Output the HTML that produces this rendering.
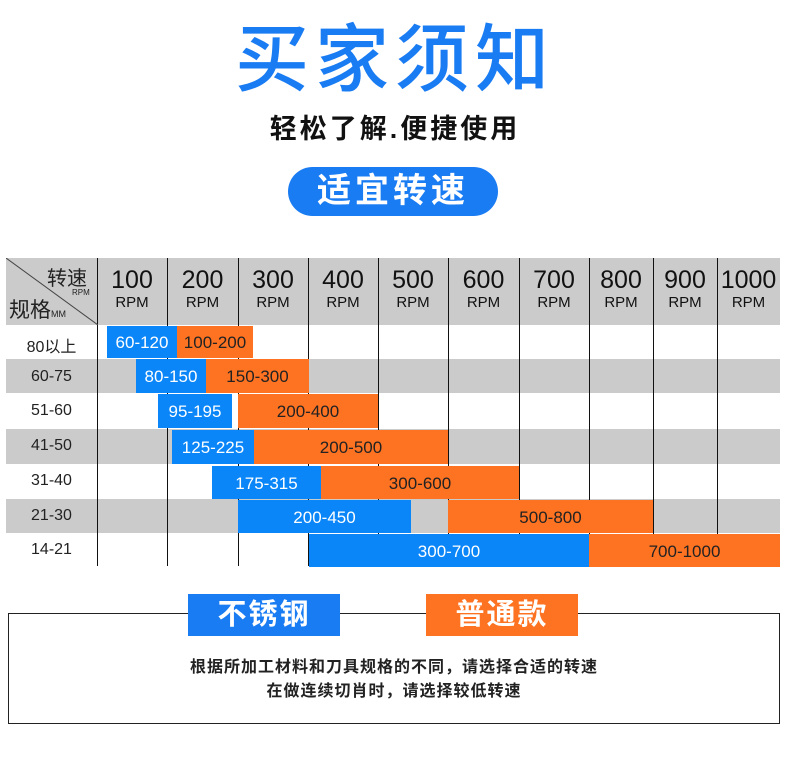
<!DOCTYPE html>
<html><head><meta charset="utf-8"><style>
*{margin:0;padding:0;box-sizing:border-box}
body{width:790px;height:766px;background:#fff;position:relative;overflow:hidden;font-family:"Liberation Sans","Noto Sans CJK SC",sans-serif}
.a{position:absolute}
.g{position:absolute;left:6px;width:774px;background:#cbcbcb}
.v{position:absolute;top:258px;width:1px;height:308px;background:#111}
.b{position:absolute;color:#fff;font-size:17px;display:flex;align-items:center;justify-content:center;background:#0a86f8;padding-top:2px}
.o{position:absolute;color:#222;font-size:17px;display:flex;align-items:center;justify-content:center;background:#fd7322;padding-top:2px}
.h{position:absolute;top:268px;text-align:center;color:#111;line-height:1}
.h b{display:block;font-weight:normal;font-size:25px}
.h i{display:block;font-style:normal;font-size:15px;margin-top:2px}
.r{position:absolute;left:6px;width:91px;text-align:center;font-size:16px;color:#222}
</style></head><body>
<div class="a" style="left:220px;top:8px;width:350px;text-align:center;font-size:74px;font-weight:500;color:#1a7cf3;letter-spacing:6px;line-height:92px;font-family:'Noto Sans CJK SC',sans-serif">买家须知</div>
<div class="a" style="left:240px;top:110px;width:310px;text-align:center;font-size:27px;font-weight:bold;color:#111;letter-spacing:3px;line-height:38px">轻松了解.便捷使用</div>
<div class="a" style="left:288px;top:167px;width:210px;height:49px;border-radius:25px;background:#1a7cf3;color:#fff;font-size:34px;font-weight:bold;text-align:center;line-height:49px;letter-spacing:4px">适宜转速</div>

<div class="g" style="top:258px;height:67px"></div>
<div class="g" style="top:359px;height:34px"></div>
<div class="g" style="top:429px;height:35px"></div>
<div class="g" style="top:499px;height:34px"></div>

<div class="v" style="left:97px"></div><div class="v" style="left:167px"></div><div class="v" style="left:238px"></div><div class="v" style="left:308px"></div><div class="v" style="left:378px"></div><div class="v" style="left:448px"></div><div class="v" style="left:519px"></div><div class="v" style="left:589px"></div><div class="v" style="left:653px"></div><div class="v" style="left:717px"></div>

<svg class="a" style="left:6px;top:258px" width="92" height="67"><line x1="0" y1="0" x2="92" y2="67" stroke="#444" stroke-width="1"/></svg>
<div class="a" style="left:47px;top:262px;font-size:20px;color:#222">转速</div>
<div class="a" style="left:72px;top:288px;font-size:8px;color:#222">RPM</div>
<div class="a" style="left:9px;top:294px;font-size:21px;color:#222">规格<span style="font-size:9px">MM</span></div>

<div class="h" style="left:97px;width:70px"><b>100</b><i>RPM</i></div>
<div class="h" style="left:167px;width:71px"><b>200</b><i>RPM</i></div>
<div class="h" style="left:238px;width:70px"><b>300</b><i>RPM</i></div>
<div class="h" style="left:308px;width:70px"><b>400</b><i>RPM</i></div>
<div class="h" style="left:378px;width:70px"><b>500</b><i>RPM</i></div>
<div class="h" style="left:448px;width:71px"><b>600</b><i>RPM</i></div>
<div class="h" style="left:519px;width:70px"><b>700</b><i>RPM</i></div>
<div class="h" style="left:589px;width:64px"><b>800</b><i>RPM</i></div>
<div class="h" style="left:653px;width:64px"><b>900</b><i>RPM</i></div>
<div class="h" style="left:717px;width:63px"><b>1000</b><i>RPM</i></div>

<div class="r" style="top:333px">80以上</div>
<div class="r" style="top:368px">60-75</div>
<div class="r" style="top:402px">51-60</div>
<div class="r" style="top:437px">41-50</div>
<div class="r" style="top:472px">31-40</div>
<div class="r" style="top:507px">21-30</div>
<div class="r" style="top:541px">14-21</div>

<div class="b" style="left:107px;top:326px;width:70px;height:32px">60-120</div>
<div class="o" style="left:177px;top:326px;width:76px;height:32px">100-200</div>
<div class="b" style="left:136px;top:359px;width:70px;height:34px">80-150</div>
<div class="o" style="left:206px;top:359px;width:103px;height:34px">150-300</div>
<div class="b" style="left:158px;top:394px;width:74px;height:34px">95-195</div>
<div class="o" style="left:238px;top:394px;width:140px;height:34px">200-400</div>
<div class="b" style="left:172px;top:430px;width:82px;height:34px">125-225</div>
<div class="o" style="left:254px;top:430px;width:194px;height:34px">200-500</div>
<div class="b" style="left:212px;top:466px;width:109px;height:33px">175-315</div>
<div class="o" style="left:321px;top:466px;width:198px;height:33px">300-600</div>
<div class="b" style="left:238px;top:500px;width:173px;height:33px">200-450</div>
<div class="o" style="left:448px;top:500px;width:205px;height:33px">500-800</div>
<div class="b" style="left:309px;top:534px;width:280px;height:33px">300-700</div>
<div class="o" style="left:589px;top:534px;width:191px;height:33px">700-1000</div>

<div class="a" style="left:8px;top:613px;width:772px;height:111px;border:1px solid #222"></div>
<div class="a" style="left:188px;top:594px;width:152px;height:42px;background:#1a7cf3;color:#fff;font-size:29px;font-weight:bold;text-align:center;line-height:42px;letter-spacing:2px">不锈钢</div>
<div class="a" style="left:426px;top:594px;width:152px;height:42px;background:#fd7322;color:#fff;font-size:29px;font-weight:bold;text-align:center;line-height:42px;letter-spacing:2px">普通款</div>
<div class="a" style="left:8px;top:656px;width:772px;text-align:center;font-size:16px;font-weight:bold;color:#222;letter-spacing:1px;line-height:24px">根据所加工材料和刀具规格的不同，请选择合适的转速<br>在做连续切肖时，请选择较低转速</div>
</body></html>
